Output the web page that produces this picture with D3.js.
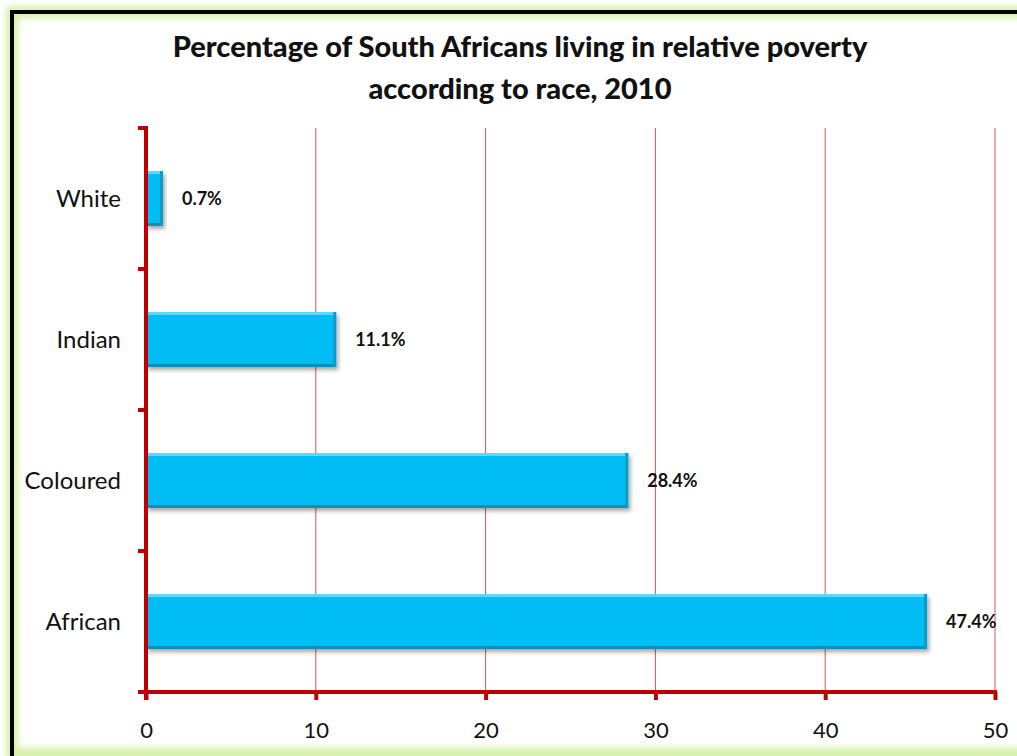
<!DOCTYPE html>
<html>
<head>
<meta charset="utf-8">
<script src="https://cdn.jsdelivr.net/npm/d3@7"></script>
<style>
  body { margin:0; background:#fff; }
  #canvas { width:1017px; height:756px; }
</style>
</head>
<body>
<div id="canvas" class="canvas"></div>
<script>
// --- data
var races = ['White', 'Indian', 'Coloured', 'African'];
var barValues = [1.0, 11.2, 28.4, 46.0];       // bar lengths as drawn
var valueLabels = ['0.7%', '11.1%', '28.4%', '47.4%'];
var xTicks = [0, 10, 20, 30, 40, 50];
var titleLines = ['Percentage of South Africans living in relative poverty', 'according to race, 2010'];

var W = 1017, H = 756;
var M = {top:128, right:22, bottom:64, left:146};
var w = W - M.left - M.right,
    h = H - M.top - M.bottom;

var svg = d3.select('.canvas')
    .append('svg')
    .attr('width', W)
    .attr('height', H)
    .style('font-family', 'Lato, "Open Sans", sans-serif');

var defs = svg.append('defs');

// green glow for the frame
var glow = defs.append('filter').attr('id', 'glow')
    .attr('x', '-5%').attr('y', '-5%').attr('width', '110%').attr('height', '110%');
glow.append('feGaussianBlur').attr('stdDeviation', 3);

var shadow = defs.append('filter').attr('id', 'shadow')
    .attr('x', '-10%').attr('y', '-20%').attr('width', '130%').attr('height', '160%');
shadow.append('feGaussianBlur').attr('in', 'SourceAlpha').attr('stdDeviation', 2).attr('result', 'b');
shadow.append('feOffset').attr('in', 'b').attr('dx', 2).attr('dy', 3).attr('result', 'o');
shadow.append('feComponentTransfer').attr('in', 'o').attr('result', 's')
    .append('feFuncA').attr('type', 'linear').attr('slope', 0.35);
var mrg = shadow.append('feMerge');
mrg.append('feMergeNode').attr('in', 's');
mrg.append('feMergeNode').attr('in', 'SourceGraphic');

// --- frame
svg.append('rect')
    .attr('x', 12).attr('y', 12).attr('width', W + 20).attr('height', H - 14)
    .attr('fill', 'none').attr('stroke', '#d4f0a8').attr('stroke-width', 12)
    .attr('filter', 'url(#glow)');
svg.append('rect')
    .attr('x', 12).attr('y', 12).attr('width', W + 20).attr('height', H - 9)
    .attr('fill', 'none').attr('stroke', '#000').attr('stroke-width', 4);

// --- title
svg.append('g').selectAll('text')
    .data(titleLines)
    .enter().append('text')
    .attr('x', 520)
    .attr('y', function(d, i) { return 57 + i * 42; })
    .attr('text-anchor', 'middle')
    .attr('font-size', '29px')
    .attr('font-weight', 900)
    .attr('fill', '#111')
    .text(function(d) { return d; });

var plot = svg.append('g')
    .attr('transform', 'translate(' + M.left + ',' + M.top + ')');

// --- scales
var x = d3.scaleLinear().domain([0, 50]).range([0, 849]);
var y = d3.scaleBand().domain(races).range([0, h]).paddingInner(0.61).paddingOuter(0.305);
var yBand = d3.scaleBand().domain(races).range([0, h]);

// --- grid lines
plot.append('g').selectAll('line')
    .data(xTicks.slice(1))
    .enter().append('line')
    .attr('x1', function(d) { return x(d); })
    .attr('x2', function(d) { return x(d); })
    .attr('y1', 0).attr('y2', h)
    .attr('stroke', '#e05050').attr('stroke-width', 1);

// --- bars
var bars = plot.append('g').selectAll('g')
    .data(races)
    .enter().append('g')
    .attr('filter', 'url(#shadow)');

bars.append('rect')
    .attr('x', 0)
    .attr('y', function(d) { return y(d); })
    .attr('width', function(d, i) { return x(barValues[i]); })
    .attr('height', y.bandwidth())
    .attr('fill', '#06bdf6');
// bevel: light top, dark bottom and right
bars.append('rect')
    .attr('x', 0)
    .attr('y', function(d) { return y(d); })
    .attr('width', function(d, i) { return x(barValues[i]); })
    .attr('height', 3)
    .attr('fill', '#5cd8fc');
bars.append('rect')
    .attr('x', 0)
    .attr('y', function(d) { return y(d) + y.bandwidth() - 3; })
    .attr('width', function(d, i) { return x(barValues[i]); })
    .attr('height', 3)
    .attr('fill', '#0890b8');
bars.append('rect')
    .attr('x', function(d, i) { return x(barValues[i]) - 3; })
    .attr('y', function(d) { return y(d); })
    .attr('width', 3)
    .attr('height', y.bandwidth())
    .attr('fill', '#0a9cc8');

// --- value labels
plot.append('g').selectAll('text')
    .data(races)
    .enter().append('text')
    .attr('x', function(d, i) { return x(barValues[i]) + 19; })
    .attr('y', function(d) { return y(d) + y.bandwidth() / 2 + 6; })
    .attr('font-size', '18px')
    .attr('font-weight', 'bold')
    .attr('fill', '#111')
    .text(function(d, i) { return valueLabels[i]; });

// --- axes
var red = '#c00000';
var xAxis = d3.axisBottom(x).tickValues(xTicks).tickSize(8).tickPadding(22);
var gx = plot.append('g').attr('transform', 'translate(0,' + h + ')').call(xAxis);
gx.select('.domain').remove();
gx.selectAll('.tick line').attr('stroke', red).attr('stroke-width', 4);
gx.selectAll('.tick text').attr('font-size', '22px').attr('fill', '#111')
    .attr('font-family', 'Lato, "Open Sans", sans-serif');
gx.append('line').attr('x1', -8).attr('x2', x(50) + 2).attr('y1', 0).attr('y2', 0)
    .attr('stroke', red).attr('stroke-width', 4);

// y axis: ticks at band boundaries
var yEdges = races.map(function(d) { return yBand(d); }).concat([h]);
plot.append('g').selectAll('line')
    .data(yEdges)
    .enter().append('line')
    .attr('x1', -8).attr('x2', 0)
    .attr('y1', function(d) { return d; }).attr('y2', function(d) { return d; })
    .attr('stroke', red).attr('stroke-width', 4);
plot.append('line').attr('x1', 0).attr('x2', 0).attr('y1', -2).attr('y2', h + 8)
    .attr('stroke', red).attr('stroke-width', 4);

plot.append('g').selectAll('text')
    .data(races)
    .enter().append('text')
    .attr('x', -25)
    .attr('y', function(d) { return yBand(d) + yBand.bandwidth() / 2 + 8; })
    .attr('text-anchor', 'end')
    .attr('font-size', '24px')
    .attr('fill', '#111')
    .text(function(d) { return d; });
</script>
</body>
</html>
